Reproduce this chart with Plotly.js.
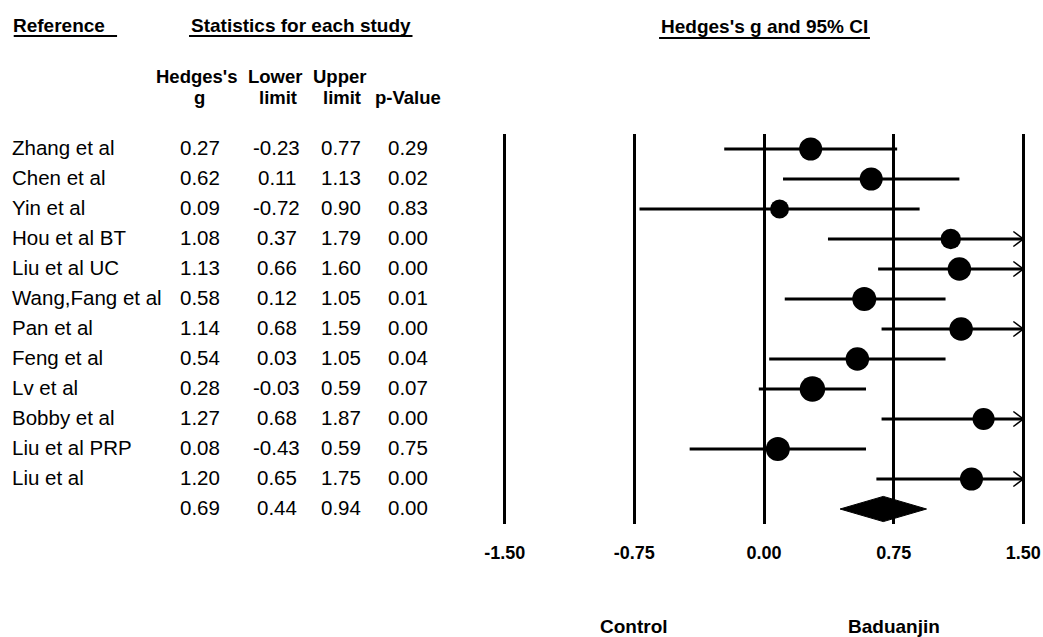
<!DOCTYPE html>
<html>
<head>
<meta charset="utf-8">
<script src="https://cdn.plot.ly/plotly-3.0.1.min.js"></script>
<style>html,body{margin:0;padding:0;background:#fff}#chart{width:1043px;height:637px}</style>
</head>
<body>
<div id="chart"></div>
<script>
// ---------- data ----------
const studies = ["Zhang et al","Chen et al","Yin et al","Hou et al BT","Liu et al UC","Wang,Fang et al","Pan et al","Feng et al","Lv et al","Bobby et al","Liu et al PRP","Liu et al"];
const hedgesG = [0.27,0.62,0.09,1.08,1.13,0.58,1.14,0.54,0.28,1.27,0.08,1.20];
const lowerLimit = [-0.23,0.11,-0.72,0.37,0.66,0.12,0.68,0.03,-0.03,0.68,-0.43,0.65];
const upperLimit = [0.77,1.13,0.90,1.79,1.60,1.05,1.59,1.05,0.59,1.87,0.59,1.75];
const pValue = [0.29,0.02,0.83,0.00,0.00,0.01,0.00,0.04,0.07,0.00,0.75,0.00];
const relWeight = [0.96,0.96,0.79,0.85,0.98,1.00,0.98,0.98,1.06,0.92,1.00,0.96];
const summaryG = [0.69];
const summaryLower = [0.44];
const summaryUpper = [0.94];
const summaryP = [0.00];
const tickValues = [-1.5,-0.75,0,0.75,1.5];
const sideLabels = ["Control","Baduanjin"];
const sideLabelX = [-0.75, 0.75];

// ---------- layout geometry ----------
const FIG_W = 1043, FIG_H = 637;
const X_MIN = -1.55, X_MAX = 1.55, CLIP = 1.5;
const PX_PER_UNIT = 173;
const ML = 504.5 - 0.05 * PX_PER_UNIT;
const PW = (X_MAX - X_MIN) * PX_PER_UNIT;
const MR = FIG_W - ML - PW;
const MT = 134, PH = 390, MB = FIG_H - MT - PH;
const nRows = studies.length + 1;
const px2paperX = px => (px - ML) / PW;
const px2paperY = py => (MT + PH - py) / PH;
const TEXT_NUDGE = -0.05; // row units, optical alignment of text with markers

const FONT = "Liberation Sans, Arial, sans-serif";
const black = "#000000";

// ---------- traces ----------
const ciX = [], ciY = [];
const arrX = [], arrY = [];
const arrDx = 10 / PX_PER_UNIT, arrDy = 0.25;
studies.forEach((s, i) => {
  const hi = Math.min(upperLimit[i], CLIP);
  ciX.push(lowerLimit[i], hi, null);
  ciY.push(i, i, null);
  if (upperLimit[i] > CLIP) {
    arrX.push(CLIP - arrDx, CLIP, CLIP - arrDx, null);
    arrY.push(i - arrDy, i, i + arrDy, null);
  }
});

const sr = studies.length;
const dh = 0.42;
const traces = [
  {type:"scatter", mode:"lines", x:ciX, y:ciY, line:{color:black, width:3}, hoverinfo:"skip", showlegend:false},
  {type:"scatter", mode:"lines", x:arrX, y:arrY, line:{color:black, width:1.5}, hoverinfo:"skip", showlegend:false},
  {type:"scatter", mode:"markers", x:hedgesG, y:studies.map((s,i)=>i),
   marker:{color:black, opacity:1, size:relWeight.map(w => 24*w), symbol:"circle", line:{width:0}}, showlegend:false},
  {type:"scatter", mode:"lines", fill:"toself", fillcolor:black,
   x:[summaryLower[0], summaryG[0], summaryUpper[0], summaryG[0], summaryLower[0]],
   y:[sr, sr - dh, sr, sr + dh, sr],
   line:{color:black, width:1}, showlegend:false, hoverinfo:"skip"}
];

// ---------- table annotations ----------
const ann = [];
const dataFont = {family:FONT, size:20.5, color:black};
const headFont = {family:FONT, size:19, color:black, weight:"bold"};
const colFont = {family:FONT, size:18.5, color:black, weight:"bold"};
const colX = {name:11.5, g:200, lo:276.5, hi:341, p:408};
const fmt = v => v.toFixed(2);

function addText(text, pxX, y, yref, anchor, font) {
  ann.push({text:text, xref:"paper", x:px2paperX(pxX), yref:yref, y:y,
    xanchor:anchor, yanchor:"middle", showarrow:false, font:font, borderpad:0, borderwidth:0});
}
studies.forEach((s, i) => {
  const y = i + TEXT_NUDGE;
  addText(s, colX.name, y, "y", "left", dataFont);
  addText(fmt(hedgesG[i]), colX.g, y, "y", "center", dataFont);
  addText(fmt(lowerLimit[i]), colX.lo, y, "y", "center", dataFont);
  addText(fmt(upperLimit[i]), colX.hi, y, "y", "center", dataFont);
  addText(fmt(pValue[i]), colX.p, y, "y", "center", dataFont);
});
const ys = sr + TEXT_NUDGE;
addText(fmt(summaryG[0]), colX.g, ys, "y", "center", dataFont);
addText(fmt(summaryLower[0]), colX.lo, ys, "y", "center", dataFont);
addText(fmt(summaryUpper[0]), colX.hi, ys, "y", "center", dataFont);
addText(fmt(summaryP[0]), colX.p, ys, "y", "center", dataFont);

// headers
addText("Reference", 13, px2paperY(25), "paper", "left", headFont);
addText("Statistics for each study", 300.3, px2paperY(25), "paper", "center", headFont);
ann.push({text:"Hedges's g and 95% CI", xref:"x", x:0, yref:"paper", y:px2paperY(26),
  xanchor:"center", yanchor:"middle", showarrow:false, font:headFont, borderpad:0, borderwidth:0});
addText("Hedges's", 197, px2paperY(76.5), "paper", "center", colFont);
addText("Lower", 275, px2paperY(76.5), "paper", "center", colFont);
addText("Upper", 339, px2paperY(76.5), "paper", "center", colFont);
addText("g", 199, px2paperY(97.5), "paper", "center", colFont);
addText("limit", 277.5, px2paperY(97.5), "paper", "center", colFont);
addText("limit", 341.5, px2paperY(97.5), "paper", "center", colFont);
addText("p-Value", 407.7, px2paperY(97.5), "paper", "center", colFont);

sideLabels.forEach((lab, k) => {
  ann.push({text:lab, xref:"x", x:sideLabelX[k], yref:"paper", y:px2paperY(626),
    xanchor:"center", yanchor:"middle", showarrow:false, font:headFont, borderpad:0, borderwidth:0});
});

// underlines
const shapes = [
  [13.3, 116.7, 36], [188.7, 412.3, 36], [659, 870, 38]
].map(u => ({type:"line", xref:"paper", yref:"paper",
  x0:px2paperX(u[0]), x1:px2paperX(u[1]), y0:px2paperY(u[2]), y1:px2paperY(u[2]),
  line:{color:black, width:2}}));

const layout = {
  width:FIG_W, height:FIG_H,
  margin:{l:ML, r:MR, t:MT, b:MB, pad:0, autoexpand:false},
  paper_bgcolor:"#ffffff", plot_bgcolor:"#ffffff",
  showlegend:false,
  xaxis:{range:[X_MIN, X_MAX], tickvals:tickValues, ticktext:tickValues.map(fmt),
    showgrid:true, gridcolor:black, gridwidth:3,
    zeroline:true, zerolinecolor:black, zerolinewidth:3,
    showline:false, ticks:"", ticklabelstandoff:16, automargin:false,
    tickfont:{family:FONT, size:18, color:black, weight:"bold"}, fixedrange:true},
  yaxis:{range:[nRows - 0.5, -0.5], showgrid:false, zeroline:false, showticklabels:false,
    showline:false, ticks:"", automargin:false, fixedrange:true},
  annotations:ann,
  shapes:shapes
};

Plotly.newPlot("chart", traces, layout, {displayModeBar:false, staticPlot:true});
</script>
</body>
</html>
